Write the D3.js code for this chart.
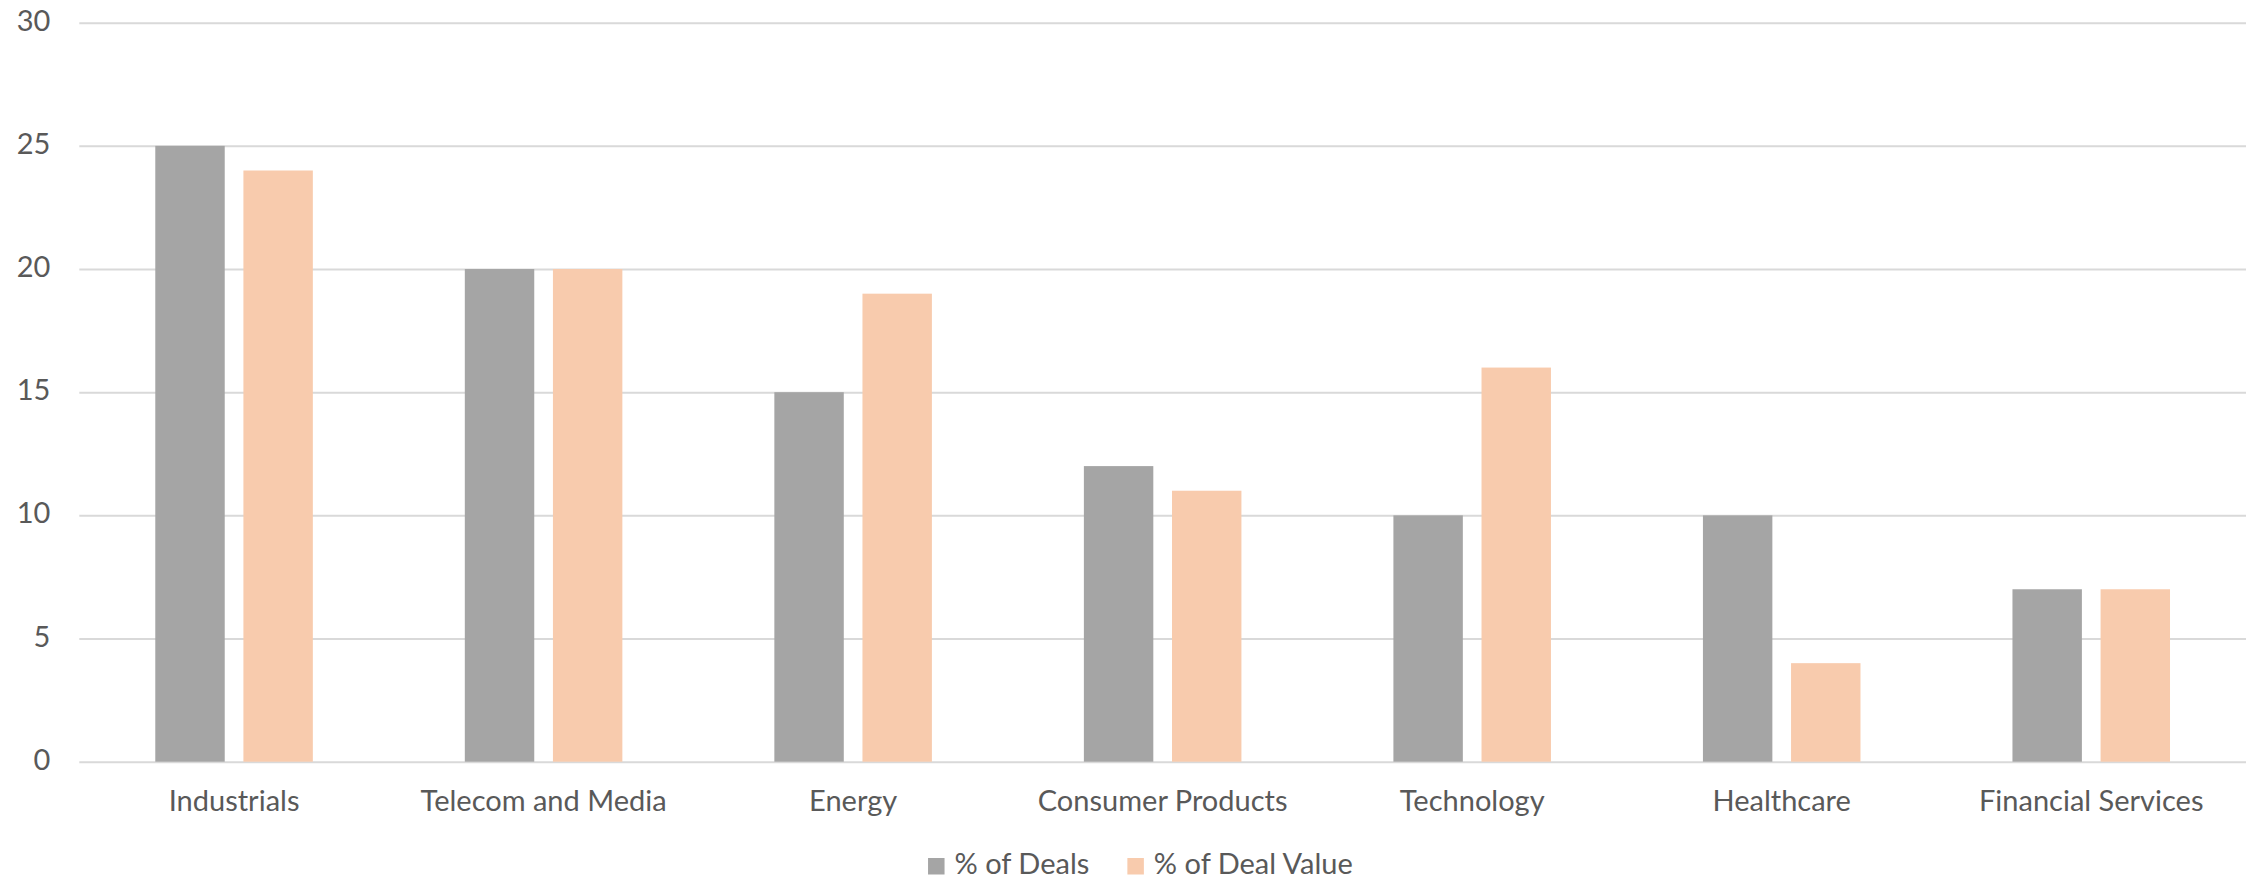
<!DOCTYPE html>
<html>
<head>
<meta charset="utf-8">
<script src="https://cdn.jsdelivr.net/npm/d3@7"></script>
<style>
  html, body { margin: 0; padding: 0; background: #fff; }
  svg text { font-family: Lato, "Open Sans", sans-serif; fill: #595959; }
</style>
</head>
<body>
<svg id="chart" width="2260" height="879"></svg>
<script>
// данные диаграммы
const categories = ['Industrials', 'Telecom and Media', 'Energy', 'Consumer Products', 'Technology', 'Healthcare', 'Financial Services'];
const seriesNames = ['% of Deals', '% of Deal Value'];
const dealsPct = [25, 20, 15, 12, 10, 10, 7];
const dealValuePct = [24, 20, 19, 11, 16, 4, 7];
const yTicks = [0, 5, 10, 15, 20, 25, 30];
const colors = ['#a5a5a5', '#f8cbad'];

const W = 2260, H = 879;
const margin = { top: 22.7, right: 14, bottom: 117.3, left: 79.3 };
const plotW = W - margin.left - margin.right;
const plotH = H - margin.top - margin.bottom;
const fontSize = 29;

const svg = d3.select('#chart');
const g = svg.append('g').attr('transform', `translate(${margin.left},${margin.top})`);

// шкалы
const x0 = d3.scaleBand().domain(categories).range([0, plotW]).paddingInner(0.491).paddingOuter(0.2455);
const x1 = d3.scaleBand().domain(seriesNames).range([0, x0.bandwidth()]).paddingInner(0.212);
const y = d3.scaleLinear().domain([0, 30]).range([plotH, 0]);

// сетка и подписи оси Y
const yAxis = g.append('g')
    .call(d3.axisLeft(y).tickValues(yTicks).tickSizeInner(-plotW).tickSizeOuter(0).tickPadding(29));
yAxis.select('.domain').remove();
yAxis.selectAll('.tick line').attr('stroke', '#d9d9d9').attr('stroke-width', 2);
yAxis.selectAll('.tick text')
    .attr('dy', '0.26em')
    .style('font-size', fontSize + 'px')
    .style('font-family', 'Lato, "Open Sans", sans-serif')
    .attr('fill', '#595959');

// столбцы
const rows = categories.map((c, i) => ({ cat: c, values: [dealsPct[i], dealValuePct[i]] }));
const groups = g.append('g').selectAll('g')
    .data(rows)
    .enter()
    .append('g')
    .attr('transform', d => `translate(${x0(d.cat)},0)`);
groups.selectAll('rect')
    .data(d => d.values.map((v, k) => ({ name: seriesNames[k], v: v, k: k })))
    .enter()
    .append('rect')
    .attr('x', d => x1(d.name))
    .attr('width', x1.bandwidth())
    .attr('y', d => y(d.v))
    .attr('height', d => y(0) - y(d.v))
    .attr('fill', d => colors[d.k]);

// подписи категорий
const xAxis = g.append('g')
    .attr('transform', `translate(0,${plotH})`)
    .call(d3.axisBottom(x0).tickSize(0).tickPadding(28.7));
xAxis.select('.domain').remove();
xAxis.selectAll('.tick text')
    .style('font-size', fontSize + 'px')
    .style('font-family', 'Lato, "Open Sans", sans-serif')
    .attr('fill', '#595959');

// легенда
const legend = svg.append('g');
const sq = 16.5, gapSq = 10, gapItem = 38;
const items = legend.selectAll('g')
    .data(seriesNames)
    .enter()
    .append('g');
items.append('rect')
    .attr('width', sq)
    .attr('height', sq)
    .attr('y', 858)
    .attr('fill', (d, i) => colors[i]);
items.append('text')
    .attr('y', 874)
    .style('font-size', fontSize + 'px')
    .text(d => d);
let widths = [];
items.select('text').each(function () { widths.push(this.getComputedTextLength()); });
const total = widths.reduce((a, w) => a + sq + gapSq + w, 0) + gapItem * (widths.length - 1);
let cx = 1140.4 - total / 2;
items.each(function (d, i) {
    const it = d3.select(this);
    it.select('rect').attr('x', cx);
    it.select('text').attr('x', cx + sq + gapSq);
    cx += sq + gapSq + widths[i] + gapItem;
});
</script>
</body>
</html>
